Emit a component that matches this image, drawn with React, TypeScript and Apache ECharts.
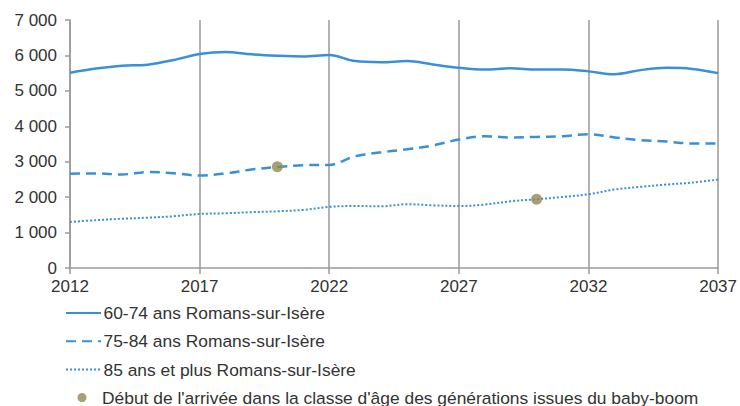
import React, { useEffect, useRef } from "react";
import * as echarts from "echarts";

const years = [
  "2012", "2013", "2014", "2015", "2016", "2017", "2018", "2019", "2020", "2021", "2022", "2023", "2024",
  "2025", "2026", "2027", "2028", "2029", "2030", "2031", "2032", "2033", "2034", "2035", "2036", "2037",
];

const age6074 = [
  5510, 5630, 5710, 5740, 5870, 6040, 6100, 6030, 5990, 5970, 6010, 5840, 5810,
  5840, 5745, 5650, 5600, 5640, 5600, 5600, 5550, 5470, 5585, 5650, 5620, 5500,
];

const age7584 = [
  2660, 2670, 2640, 2710, 2675, 2610, 2670, 2780, 2850, 2900, 2910, 3155, 3270,
  3350, 3460, 3625, 3720, 3685, 3700, 3720, 3775, 3685, 3610, 3570, 3515, 3515,
];

const age85plus = [
  1300, 1350, 1390, 1420, 1460, 1525, 1545, 1575, 1600, 1640, 1725, 1750, 1740,
  1800, 1770, 1750, 1790, 1885, 1940, 2005, 2080, 2215, 2290, 2355, 2410, 2495,
];

const babyBoomYears = ["2020", "2030"];
const babyBoomValues = [2855, 1940];

const seriesNames = [
  "60-74 ans Romans-sur-Isère",
  "75-84 ans Romans-sur-Isère",
  "85 ans et plus Romans-sur-Isère",
];
const dotName = "Début de l'arrivée dans la classe d'âge des générations issues du baby-boom";

const BLUE = "#3a90d8";
const OLIVE = "#938752";
const FONT = "Liberation Sans";

export default function App() {
  const ref = useRef<HTMLDivElement>(null);

  useEffect(() => {
    if (!ref.current) return;
    const chart = echarts.init(ref.current, undefined, { renderer: "svg" });
    chart.setOption({
      animation: false,
      backgroundColor: "#ffffff",
      textStyle: { fontFamily: FONT },
      grid: { left: 70, right: 19, top: 20, bottom: 138, containLabel: false },
      xAxis: {
        type: "category",
        data: years,
        boundaryGap: false,
        axisLine: { show: true, lineStyle: { color: "#9a9a9a", width: 1.5 } },
        axisTick: { show: true, interval: 4, length: 6, lineStyle: { color: "#9a9a9a", width: 1.5 } },
        axisLabel: { interval: 4, color: "#333333", fontSize: 17, fontFamily: FONT, margin: 10 },
        splitLine: { show: true, interval: 4, lineStyle: { color: "#9a9a9a", width: 1.5 } },
      },
      yAxis: {
        type: "value",
        min: 0,
        max: 7000,
        interval: 1000,
        axisLine: { show: true, lineStyle: { color: "#9a9a9a", width: 1.5 } },
        axisTick: { show: true, length: 5, lineStyle: { color: "#9a9a9a", width: 1.5 } },
        axisLabel: {
          color: "#333333",
          fontSize: 17,
          fontFamily: FONT,
          margin: 13,
          formatter: (v: number) => String(v).replace(/\B(?=(\d{3})+(?!\d))/g, " "),
        },
        splitLine: { show: false },
      },
      legend: [
        {
          data: seriesNames,
          orient: "vertical",
          left: 65,
          top: 303,
          padding: 0,
          itemWidth: 35,
          itemHeight: 20,
          itemGap: 8.3,
          itemStyle: { opacity: 0, borderWidth: 0 },
          textStyle: { color: "#333333", fontSize: 17.4, lineHeight: 20, fontFamily: FONT, padding: [0, 0, 0, -2.5] },
        },
        {
          data: [{ name: dotName, icon: "circle" }],
          orient: "vertical",
          left: 77.5,
          top: 389,
          padding: 0,
          itemWidth: 35,
          itemHeight: 9,
          textStyle: { color: "#333333", fontSize: 17.4, lineHeight: 17, fontFamily: FONT, padding: [0, 0, 0, -2.5] },
        },
      ],
      series: [
        {
          name: seriesNames[0],
          type: "line",
          data: age6074,
          smooth: 0.35,
          symbol: "none",
          color: BLUE,
          lineStyle: { color: BLUE, width: 2.5, type: "solid" },
        },
        {
          name: seriesNames[1],
          type: "line",
          data: age7584,
          smooth: 0.35,
          symbol: "none",
          color: BLUE,
          lineStyle: { color: BLUE, width: 2.5, type: [10, 6] },
        },
        {
          name: seriesNames[2],
          type: "line",
          data: age85plus,
          smooth: 0.35,
          symbol: "none",
          color: BLUE,
          lineStyle: { color: BLUE, width: 2, type: [2, 2] },
        },
        {
          name: dotName,
          type: "scatter",
          data: babyBoomYears.map((y, i) => [y, babyBoomValues[i]]),
          symbol: "circle",
          symbolSize: 11,
          color: OLIVE,
          itemStyle: { color: OLIVE },
          z: 5,
        },
      ],
    });
    return () => chart.dispose();
  }, []);

  return <div ref={ref} style={{ width: 740, height: 406, position: "absolute", left: 0, top: 0 }} />;
}
